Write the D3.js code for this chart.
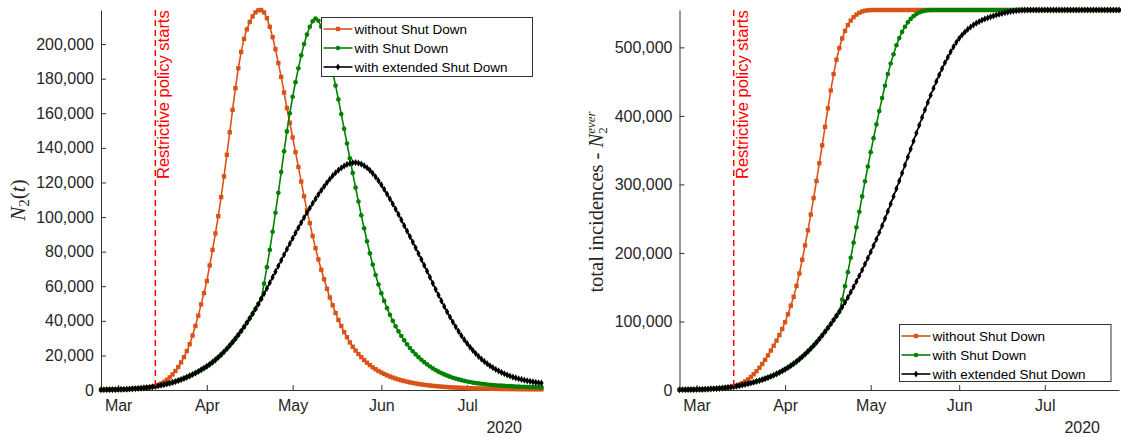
<!DOCTYPE html>
<html>
<head>
<meta charset="utf-8">
<script src="https://cdn.jsdelivr.net/npm/d3@7"></script>
<style>
body { margin: 0; background: #fff; }
text { font-family: "Liberation Sans", Arial, sans-serif; }
</style>
</head>
<body>
<svg id="chart" width="1121" height="437"></svg>
<script>
// one value per day, starting at startDay
var startDay = "2020-02-24";
var policyDay = "2020-03-14";
var monthTicks = ["2020-03-01", "2020-04-01", "2020-05-01", "2020-06-01", "2020-07-01"];
var yearLabel = "2020";
var yTicksLeft = [0, 20000, 40000, 60000, 80000, 100000, 120000, 140000, 160000, 180000, 200000];
var yTicksRight = [0, 100000, 200000, 300000, 400000, 500000];
var seriesNames = ["without Shut Down", "with Shut Down", "with extended Shut Down"];
var policyText = "Restrictive policy starts";

// N2(t) - active cases
var activeNoShut = [
  130,150,175,200,235,270,315,365,425,490,
  570,660,765,890,1030,1190,1380,1600,1860,2150,
  2900,3700,4700,5900,7300,9000,11000,13300,16000,19000,
  22500,26500,31500,37000,43000,49500,56000,63000,72000,81000,
  90500,100500,111500,123500,136000,149000,162000,174500,186000,195500,
  203000,208500,212800,216000,218300,219500,219700,218300,215000,210000,
  204000,197000,189000,181000,172000,163000,154500,146000,137500,129000,
  120500,112000,104000,96500,89000,82000,75500,69500,64000,58500,
  53500,49000,44500,40500,37000,33500,30500,27500,25000,22800,
  20800,19000,17300,15800,14400,13100,12000,11000,10100,9300,
  8500,7800,7200,6600,6100,5600,5200,4800,4400,4100,
  3800,3500,3250,3000,2800,2600,2400,2250,2100,1950,
  1820,1700,1600,1500,1400,1320,1240,1170,1100,1040,
  980,930,880,840,800,760,720,690,660,630,
  600,580,560,540,520,500,480,460,450,440,
  430,420,410,400,390
];
var activeShut = [
  130,150,175,200,235,270,315,365,425,490,
  570,660,765,890,1030,1190,1380,1600,1860,2150,
  2450,2780,3140,3530,3950,4400,4900,5450,6050,6700,
  7400,8150,8950,9800,10700,11650,12650,13700,14850,16100,
  17450,18900,20450,22100,23850,25700,27650,29700,31850,34100,
  36450,38900,41450,44100,46850,49700,52650,61500,71000,81000,
  91500,102500,114000,126000,138000,149500,160000,169500,178000,186000,
  193500,200000,205500,210000,213200,214800,213500,210000,205000,199000,
  192000,184000,176000,168000,159500,151000,142500,134000,125500,117000,
  109000,101000,93500,86000,79000,72500,66500,61000,56000,51500,
  47300,43500,40000,36800,33900,31200,28700,26400,24300,22400,
  20600,19000,17500,16100,14800,13600,12500,11500,10600,9800,
  9000,8300,7700,7100,6600,6100,5700,5300,4900,4600,
  4300,4000,3800,3600,3400,3200,3050,2900,2750,2600,
  2500,2400,2300,2200,2100,2020,1950,1880,1820,1760,
  1700,1650,1600,1550,1500
];
var activeExtShut = [
  130,150,175,200,235,270,315,365,425,490,
  570,660,765,890,1030,1190,1380,1600,1860,2150,
  2450,2780,3140,3530,3950,4400,4900,5450,6050,6700,
  7400,8150,8950,9800,10700,11650,12650,13700,14850,16100,
  17450,18900,20450,22100,23850,25700,27650,29700,31850,34100,
  36450,38900,41450,44100,46850,49700,52650,55700,58800,62000,
  65200,68400,71700,75000,78200,81400,84600,87700,90800,93800,
  96800,99700,102500,105200,107900,110500,113000,115400,117700,119900,
  122000,123900,125600,127100,128400,129500,130400,131000,131400,131500,
  131200,130600,129700,128500,127000,125200,123200,121000,118600,116000,
  113300,110500,107600,104600,101500,98300,95000,91900,88700,85500,
  82200,78900,75500,72100,68700,65200,61700,58200,54800,51500,
  48300,45200,42200,39300,36500,33900,31400,29100,26900,24800,
  22900,21100,19400,17900,16500,15200,14000,12900,11900,11000,
  10200,9400,8700,8100,7500,7000,6500,6100,5700,5300,
  5000,4700,4400,4200,4000
];

// N2ever - total incidences
var totalNoShut = [
  300,350,410,480,560,650,760,880,1020,1180,
  1370,1590,1840,2130,2460,2840,3270,3760,4310,4900,
  6300,8000,10000,12500,15500,19000,23000,27500,32500,38000,
  44000,50500,57500,64500,72000,80000,89000,99000,110500,123000,
  136000,152000,170000,190000,211000,233000,256000,280000,305000,331000,
  357000,384000,411000,437000,461000,482000,499000,513000,524000,532500,
  539000,544000,547800,550500,552300,553500,554100,554400,554500,554500,
  554500,554500,554500,554500,554500,554500,554500,554500,554500,554500,
  554500,554500,554500,554500,554500,554500,554500,554500,554500,554500,
  554500,554500,554500,554500,554500,554500,554500,554500,554500,554500,
  554500,554500,554500,554500,554500,554500,554500,554500,554500,554500,
  554500,554500,554500,554500,554500,554500,554500,554500,554500,554500,
  554500,554500,554500,554500,554500,554500,554500,554500,554500,554500,
  554500,554500,554500,554500,554500,554500,554500,554500,554500,554500,
  554500,554500,554500,554500,554500,554500,554500,554500,554500,554500,
  554500,554500,554500,554500,554500
];
var totalShut = [
  300,350,410,480,560,650,760,880,1020,1180,
  1370,1590,1840,2130,2460,2840,3270,3760,4310,4900,
  5670,6480,7330,8230,9190,10220,11320,12490,13750,15100,
  16540,18090,19750,21550,23490,25560,27780,30160,32730,35470,
  38420,41570,44920,48490,52270,56270,60500,64960,69640,74540,
  79670,85030,90560,96280,102130,108120,114240,132000,151500,172000,
  193000,215000,237500,260000,282500,304500,326000,347000,367500,387500,
  407000,426000,444000,461000,476500,490000,503000,513500,522500,530000,
  536500,541500,545500,548500,550800,552400,553500,554100,554400,554500,
  554500,554500,554500,554500,554500,554500,554500,554500,554500,554500,
  554500,554500,554500,554500,554500,554500,554500,554500,554500,554500,
  554500,554500,554500,554500,554500,554500,554500,554500,554500,554500,
  554500,554500,554500,554500,554500,554500,554500,554500,554500,554500,
  554500,554500,554500,554500,554500,554500,554500,554500,554500,554500,
  554500,554500,554500,554500,554500,554500,554500,554500,554500,554500,
  554500,554500,554500,554500,554500
];
var totalExtShut = [
  300,350,410,480,560,650,760,880,1020,1180,
  1370,1590,1840,2130,2460,2840,3270,3760,4310,4900,
  5670,6480,7330,8230,9190,10220,11320,12490,13750,15100,
  16540,18090,19750,21550,23490,25560,27780,30160,32730,35470,
  38420,41570,44920,48490,52270,56270,60500,64960,69640,74540,
  79670,85030,90560,96280,102130,108120,114240,120800,127800,135100,
  142700,150500,158500,166700,175100,183700,192500,201500,210700,220100,
  229800,239800,250100,260700,271500,282500,293700,305100,316600,328200,
  339900,351600,363300,374900,386400,397700,408800,419600,430100,440300,
  450300,459800,468900,477500,485500,493500,500800,507300,513000,518000,
  522400,526300,529700,532700,535300,537600,539600,541400,543000,544500,
  545900,547200,548400,549500,550500,551400,552200,552900,553500,553900,
  554200,554400,554500,554500,554500,554500,554500,554500,554500,554500,
  554500,554500,554500,554500,554500,554500,554500,554500,554500,554500,
  554500,554500,554500,554500,554500,554500,554500,554500,554500,554500,
  554500,554500,554500,554500,554500
];

var colors = ["#d95319", "#008000", "#000000"];
var symbols = [d3.symbolSquare, d3.symbolCircle, d3.symbolDiamond];
var symbolSizes = [19, 17, 15];
var axisColor = "#333333";
var textColor = "#262626";

var svg = d3.select("#chart");
svg.append("rect").attr("width", 1121).attr("height", 437).attr("fill", "#fff");

var parse = d3.utcParse("%Y-%m-%d");
var start = parse(startDay);
function dayOf(i) { return d3.utcDay.offset(start, i); }
var nDays = activeNoShut.length;

var plotTop = 10, plotBottom = 390;

var panels = [
  { x0: 101, x1: 541.5, data: [activeNoShut, activeShut, activeExtShut], ticks: yTicksLeft,
    legend: { x: 321.5, y: 17.5, w: 211, h: 59 }, year: 522 },
  { x0: 679.5, x1: 1119, data: [totalNoShut, totalShut, totalExtShut], ticks: yTicksRight,
    legend: { x: 899.5, y: 324.5, w: 211.5, h: 57 }, year: 1100 }
];

panels.forEach(function (p) {
  var g = svg.append("g");
  var x = d3.scaleUtc()
    .domain([start, dayOf(nDays - 1)])
    .range([p.x0, p.x1]);
  var yMax = d3.max(p.data, function (s) { return d3.max(s); });
  var y = d3.scaleLinear().domain([0, yMax]).range([plotBottom, plotTop]);

  // axes, ticks pointing inwards
  var xAxis = d3.axisBottom(x)
    .tickValues(monthTicks.map(parse))
    .tickFormat(d3.utcFormat("%b"))
    .tickSizeInner(-5).tickSizeOuter(0).tickPadding(10);
  var gx = g.append("g").attr("transform", "translate(0," + plotBottom + ")").call(xAxis);

  var yAxis = d3.axisLeft(y)
    .tickValues(p.ticks)
    .tickFormat(d3.format(","))
    .tickSizeInner(-5).tickSizeOuter(0).tickPadding(7);
  var gy = g.append("g").attr("transform", "translate(" + p.x0 + ",0)").call(yAxis);

  [gx, gy].forEach(function (a) {
    a.select(".domain").attr("stroke", axisColor);
    a.selectAll(".tick line").attr("stroke", axisColor);
    a.selectAll(".tick text").attr("fill", textColor)
      .style("font-size", "16px").style("font-family", "'Liberation Sans', Arial, sans-serif");
  });

  g.append("text")
    .attr("x", p.year).attr("y", 433)
    .attr("text-anchor", "end")
    .attr("fill", textColor)
    .style("font-size", "16px")
    .text(yearLabel);

  // curves: line + daily markers
  p.data.forEach(function (s, k) {
    var line = d3.line()
      .x(function (d, i) { return x(dayOf(i)); })
      .y(function (d) { return y(d); });
    g.append("path")
      .datum(s)
      .attr("d", line)
      .attr("fill", "none")
      .attr("stroke", colors[k])
      .attr("stroke-width", 1.6);
    g.append("g").selectAll("path")
      .data(s)
      .enter()
      .append("path")
      .attr("d", d3.symbol().type(symbols[k]).size(symbolSizes[k]))
      .attr("transform", function (d, i) { return "translate(" + x(dayOf(i)) + "," + y(d) + ")"; })
      .attr("fill", colors[k]);
  });

  // policy line
  var px = x(parse(policyDay));
  g.append("line")
    .attr("x1", px).attr("x2", px)
    .attr("y1", plotTop).attr("y2", plotBottom)
    .attr("stroke", "#ff0000")
    .attr("stroke-width", 1.5)
    .attr("stroke-dasharray", "6,4");
  g.append("text")
    .attr("transform", "translate(" + (px + 14) + ",179) rotate(-90)")
    .attr("fill", "#ff0000")
    .style("font-size", "16.5px")
    .text(policyText);

  // legend
  var L = p.legend;
  var lg = g.append("g").attr("transform", "translate(" + L.x + "," + L.y + ")");
  lg.append("rect")
    .attr("width", L.w).attr("height", L.h)
    .attr("fill", "#fff").attr("stroke", axisColor).attr("stroke-width", 1);
  seriesNames.forEach(function (name, k) {
    var ry = 11.5 + k * 19;
    lg.append("line")
      .attr("x1", 2).attr("x2", 31).attr("y1", ry).attr("y2", ry)
      .attr("stroke", colors[k]).attr("stroke-width", 1.6);
    lg.append("path")
      .attr("d", d3.symbol().type(symbols[k]).size(symbolSizes[k]))
      .attr("transform", "translate(16.5," + ry + ")")
      .attr("fill", colors[k]);
    lg.append("text")
      .attr("x", 33).attr("y", ry).attr("dy", "0.35em")
      .attr("fill", "#000")
      .style("font-size", "13.5px")
      .text(name);
  });
});

// y labels (LaTeX style)
var serif = "'Liberation Serif', 'Times New Roman', serif";
var ly = svg.append("text")
  .attr("transform", "translate(25,200) rotate(-90)")
  .attr("text-anchor", "middle")
  .attr("fill", textColor)
  .style("font-family", serif)
  .style("font-size", "21px");
ly.append("tspan").style("font-style", "italic").text("N");
ly.append("tspan").attr("dy", 4).style("font-size", "15px").text("2");
ly.append("tspan").attr("dy", -4).text("(");
ly.append("tspan").style("font-style", "italic").text("t");
ly.append("tspan").text(")");

var ry = svg.append("text")
  .attr("transform", "translate(603,202) rotate(-90)")
  .attr("text-anchor", "middle")
  .attr("fill", textColor)
  .style("font-family", serif)
  .style("font-size", "20.5px");
ry.append("tspan").text("total incidences - ");
ry.append("tspan").style("font-style", "italic").text("N");
ry.append("tspan").attr("dy", 4).style("font-size", "13px").text("2");
ry.append("tspan").attr("dx", -6.5).attr("dy", -12).style("font-size", "13px").style("font-style", "italic").text("ever");
</script>
</body>
</html>
